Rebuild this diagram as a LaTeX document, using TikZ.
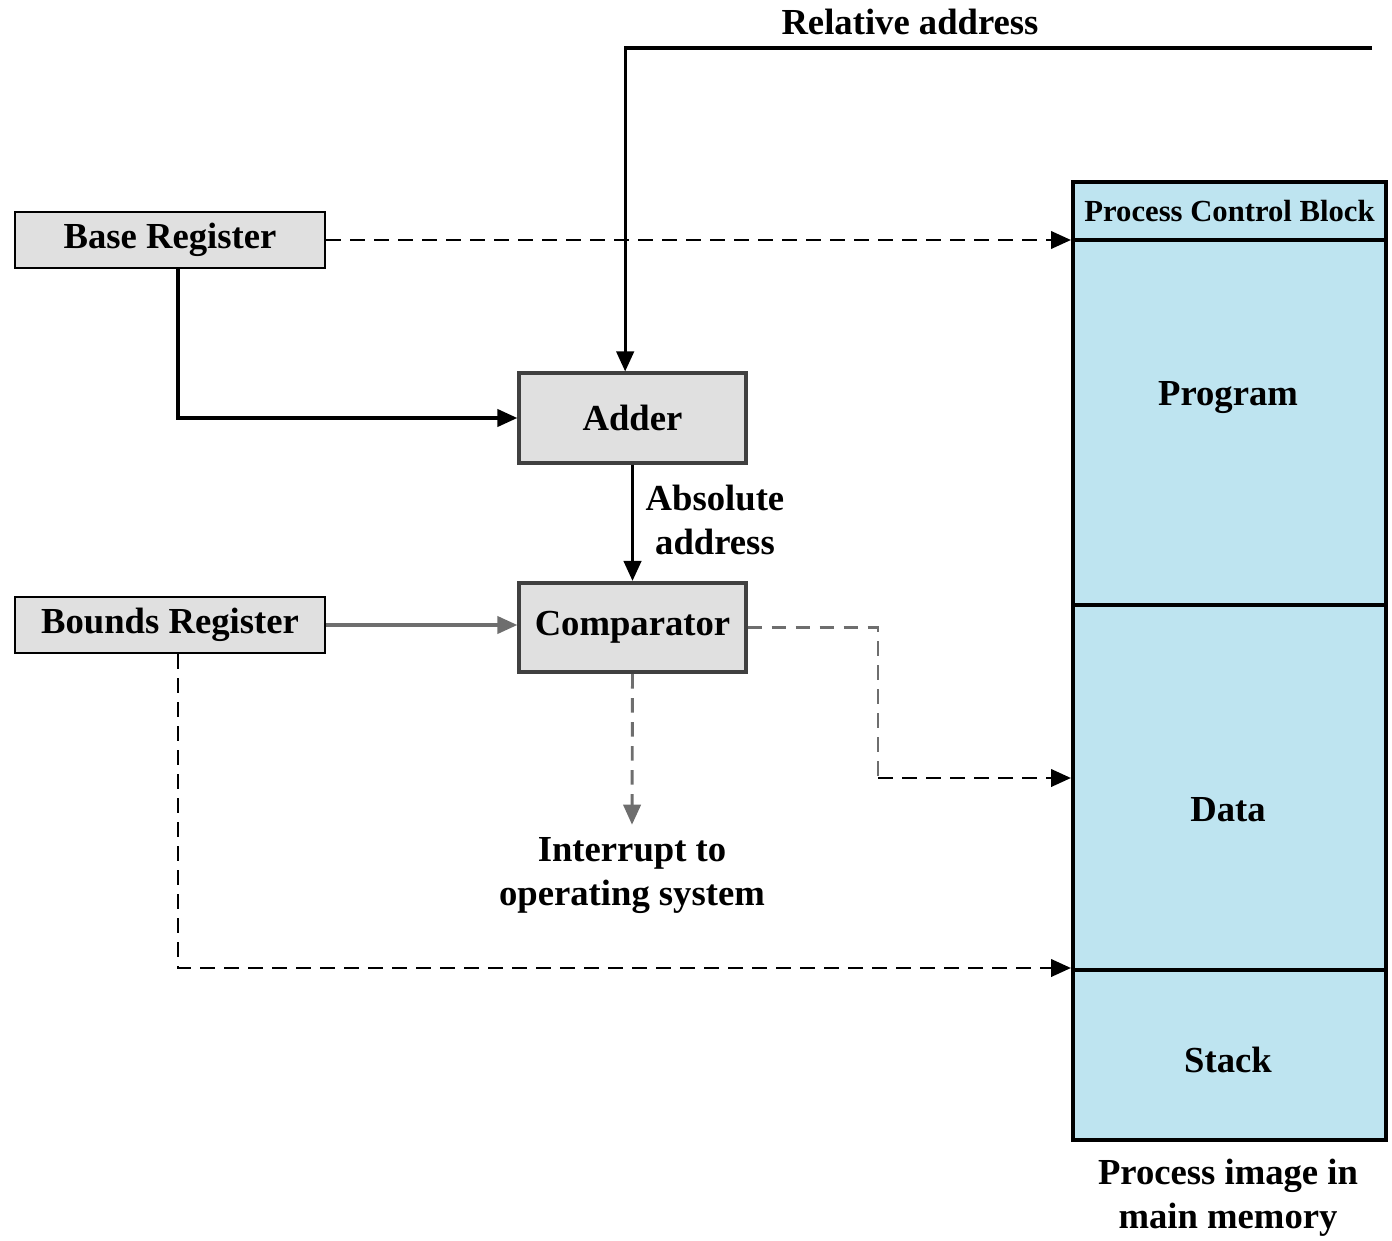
\documentclass[tikz,border=0pt]{standalone}
\usepackage{fontspec}
\setmainfont{Liberation Serif}
\usetikzlibrary{arrows.meta}
\definecolor{memblue}{RGB}{190,228,240}
\definecolor{boxgray}{RGB}{224,224,224}
\definecolor{linegray}{RGB}{110,110,110}

\begin{document}
\begin{tikzpicture}[x=0.75pt,y=0.75pt,yscale=-1,xscale=1,
  font=\bfseries\fontsize{27.5}{33}\selectfont,
  >={Triangle[length=15pt,width=13pt]},
  regbox/.style={draw=black,fill=boxgray,line width=2.2pt,minimum width=232.5pt,minimum height=42pt,inner sep=0pt},
  unitbox/.style={draw=black!75,fill=boxgray,line width=2.8pt,minimum width=170pt,minimum height=67pt,inner sep=0pt},
  memcell/.style={draw=black,fill=memblue,line width=3pt,minimum width=234.75pt,inner sep=0pt},
  link/.style={line width=2.4pt},
  dlink/.style={line width=2.2pt,dash pattern=on 11pt off 7pt},
  lbl/.style={inner sep=0.75pt,align=center}]
\path[use as bounding box] (0,0) rectangle (1392,1241);

% Registers
\node [regbox] (base) at (170,240) {Base Register};
\node [regbox] (bounds) at (170,625) {Bounds Register};
% Adder and comparator
\node [unitbox] (adder) at (632.5,418) {Adder};
\node [unitbox] (comp) at (632.5,627.5) {Comparator};

% Process image column
\node [memcell,minimum height=43.5pt] (pcb) at (1229.5,211) {};
\node [memcell,minimum height=273.75pt] (prog) at (1229.5,422.5) {};
\node [memcell,minimum height=273.75pt] (data) at (1229.5,787.5) {};
\node [memcell,minimum height=127.5pt] (stack) at (1229.5,1055) {};

% Text Node
\node [lbl,font=\bfseries\fontsize{23}{27}\selectfont] (pcbtxt) at (1229.5,211) {Process Control Block};
% Text Node
\node [lbl] (progtxt) at (1228,398) {Program};
% Text Node
\node [lbl] (datatxt) at (1228,810) {Data};
% Text Node
\node [lbl] (stacktxt) at (1228,1060) {Stack};
% Text Node
\node [lbl] (caption) at (1228,1198) {Process image in\\main memory};
% Text Node
\node [lbl] (reltxt) at (910,22) {Relative address};
% Text Node
\node [lbl] (abstxt) at (715,520) {Absolute\\address};
% Text Node
\node [lbl] (irq) at (632,876) {Interrupt to\\operating system};

% Straight Lines
\coordinate (relend) at (1372,48);
\draw [link,->] (relend) -| ([xshift=-5.5pt]adder.north);
\draw [link,->] ([xshift=6pt]base.south) |- (adder.west);
\draw [link,->] (adder.south) -- (comp.north);
\draw [link,linegray,->] (bounds.east) -- (bounds.east -| comp.west);

% Dashed Lines
\draw [dlink,->] (base.east) -- (base.east -| pcb.west);
\coordinate (bend) at (878,778);
\draw [dlink,linegray] (comp.east) -| (bend);
\draw [dlink,->] (bend) -- (bend -| data.west);
\draw [dlink,linegray,->] (comp.south) -- ([yshift=-9pt]irq.north);
\draw [dlink,->] ([xshift=6pt]bounds.south) |- (stack.north west);

\end{tikzpicture}
\end{document}
